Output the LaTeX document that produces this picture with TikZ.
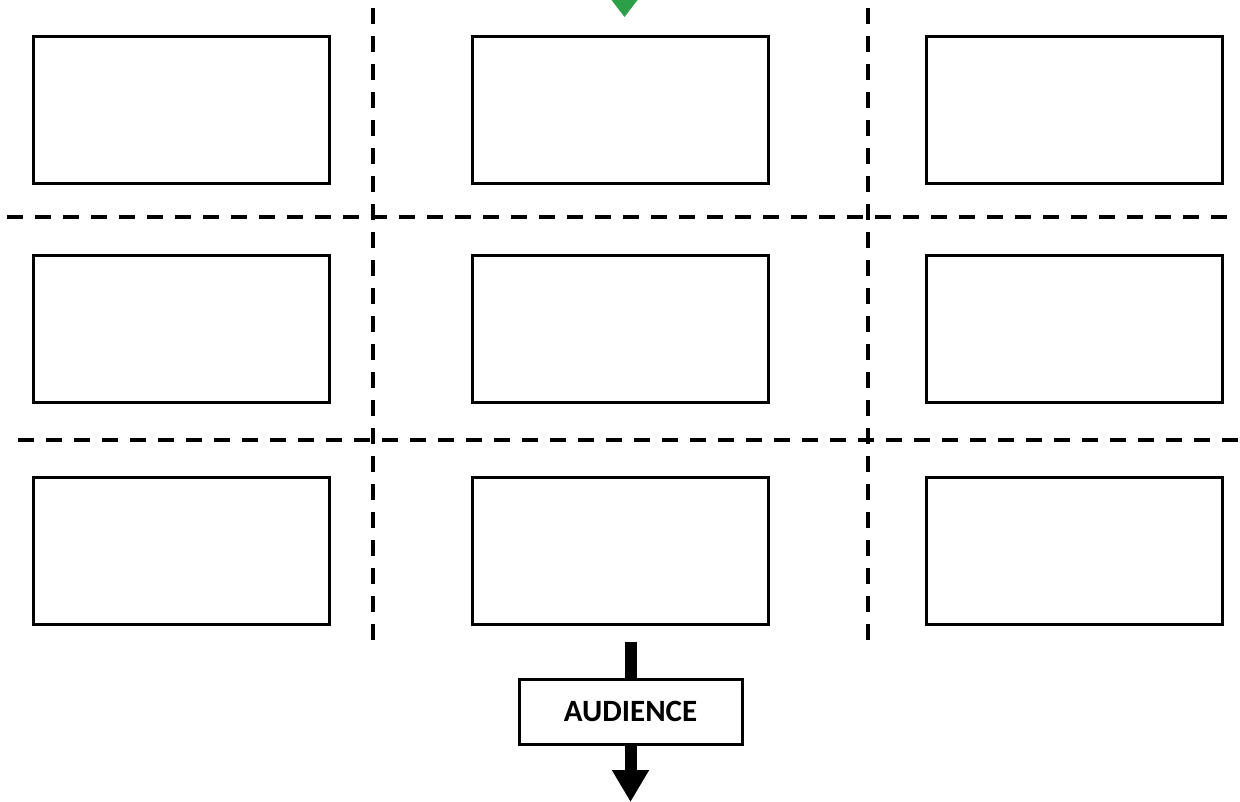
\documentclass[tikz,border=0pt]{standalone}
\usepackage{fontspec}
\setmainfont{Carlito}
\usetikzlibrary{arrows.meta}
\definecolor{tipgreen}{RGB}{44,160,72}
\tikzset{
  panel/.style={draw=black, line width=3pt, minimum width=296pt, minimum height=147pt, inner sep=0pt},
  sep/.style={draw=black, line width=3.5pt, dash pattern=on 16pt off 12pt},
  label box/.style={draw=black, line width=3pt, fill=white, minimum width=223pt, minimum height=65pt, inner sep=0pt, font=\fontsize{31}{36}\selectfont\bfseries},
  flow/.style={draw=black, line width=12pt},
}
\begin{document}
\begin{tikzpicture}[x=1pt,y=-1pt]
\useasboundingbox (0,0) rectangle (1240,801);
% dashed separators
\draw[sep] (373,8) -- (373,640);
\draw[sep] (868,8) -- (868,640);
\draw[sep] (7,217) -- (1230,217);
\draw[sep] (18,440) -- (1238,440);
% panels
\node[panel] (p11) at (181,109.5) {};
\node[panel] (p12) at (620.5,109.5) {};
\node[panel] (p13) at (1074,109.5) {};
\node[panel] (p21) at (181,328.5) {};
\node[panel] (p22) at (620.5,328.5) {};
\node[panel] (p23) at (1074,328.5) {};
\node[panel] (p31) at (181,551) {};
\node[panel] (p32) at (620.5,551) {};
\node[panel] (p33) at (1074,551) {};
% green arrowhead at top
\fill[tipgreen] (611.5,0) -- (637.5,0) -- (624.5,17) -- cycle;
% audience
\node[label box] (aud) at (630.5,711.5) {AUDIENCE};
\coordinate (instart) at (630.5,642);
\coordinate (outend) at (630.5,802);
\draw[flow] (instart) -- (aud.north);
\draw[flow, -{Triangle[width=35pt,length=32pt]}] (aud.south) -- (outend);
\end{tikzpicture}
\end{document}
